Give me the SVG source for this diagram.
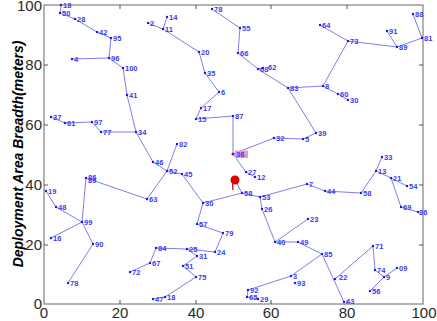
<svg xmlns="http://www.w3.org/2000/svg" width="437" height="321" viewBox="0 0 437 321">
<style>
.e{stroke:#6f6fe6;stroke-width:0.9;fill:none}
.d{fill:#1a1ad8}
.n text{font-family:"Liberation Sans",Arial,sans-serif;font-size:7.5px;font-weight:bold;fill:#3a3af5}
.ax{font-family:"Liberation Sans",Arial,sans-serif;font-size:15px;fill:#2a2a2a}
.tk{stroke:#555;stroke-width:1}
</style>
<rect width="437" height="321" fill="#fff"/>
<g id="axes">
<rect x="44" y="5" width="379" height="299" fill="none" stroke="#666" stroke-width="1"/>
<path class="tk" d="M120,304v-4M196,304v-4M271,304v-4M347,304v-4M120,5v4M196,5v4M271,5v4M347,5v4M44,245h4M44,185h4M44,125h4M44,65h4M423,245h-4M423,185h-4M423,125h-4M423,65h-4"/>
<g class="ax" text-anchor="middle">
<text x="44" y="318">0</text><text x="120" y="318">20</text><text x="196" y="318">40</text><text x="271" y="318">60</text><text x="347" y="318">80</text><text x="424" y="318">100</text>
</g>
<g class="ax" text-anchor="end">
<text x="42" y="309">0</text><text x="42" y="250">20</text><text x="42" y="190">40</text><text x="42" y="130">60</text><text x="42" y="70">80</text><text x="42" y="11">100</text>
</g>
<text transform="translate(23,154) rotate(-90)" text-anchor="middle" font-family="Liberation Sans,Arial,sans-serif" font-size="14" font-weight="bold" font-style="italic" fill="#000">Deployment Area Breadth(meters)</text>
</g>
<g id="connectors" class="e">
<path d="M61,5L60,13L75,19L97,32L111,38L109,58L123,68L127,95L136,132L153,162L167,171L182,174L203,203L197,224L223,233L215,252L187,249L156,248L150,263L130,272"/>
<path d="M72,59L109,58M51,117L65,123L92,122L101,132L136,132M167,171L177,144M167,171L147,199L86,178L82,222L56,207L46,191M82,222L51,238M82,222L93,244L68,283"/>
<path d="M187,249L197,256L183,266L196,277L165,297L153,299"/>
<path d="M203,203L242,193L260,197L262,209L275,242L298,242L322,254L291,276L248,290L247,297L258,299M275,242L308,219M322,254L344,302M260,197L307,184L325,191L361,193L376,171L382,157M376,171L391,178L407,186M391,178L401,207L418,212"/>
<path d="M335,279L373,246L375,270L384,277L397,268M384,277L370,291"/>
<path d="M201,108L196,119L233,116L233,154L274,138L303,139L316,133L288,88L323,86L348,41L320,25M348,41L397,47L387,31M397,47L422,38L413,14M323,86L338,94L348,100"/>
<path d="M233,154L246,172L255,177M235,180L242,193"/>
<path d="M148,23L163,29L167,17M163,29L199,52L205,73L219,92L201,108M212,9L240,28L238,53L258,69L263,68M258,69L288,88"/>
</g>
<g id="sink">
<circle cx="235" cy="180" r="4.5" fill="#e00000"/>
<path d="M232.5,184L233,190" stroke="#e00000" stroke-width="1.3"/>
</g>
<g id="node36" class="n"><rect x="235" y="150.5" width="13" height="7.5" fill="#eb9cc4"/><circle cx="233" cy="154" r="1.5" fill="#a0103c"/><text x="236" y="157">36</text></g>
<g id="n18a" class="n"><circle class="d" cx="61" cy="5" r="1.2"/><text x="63" y="8">18</text></g>
<g id="n50" class="n"><circle class="d" cx="60" cy="13" r="1.2"/><text x="62" y="16">50</text></g>
<g id="n28" class="n"><circle class="d" cx="75" cy="19" r="1.2"/><text x="77" y="22">28</text></g>
<g id="n42" class="n"><circle class="d" cx="97" cy="32" r="1.2"/><text x="99" y="35">42</text></g>
<g id="n95" class="n"><circle class="d" cx="111" cy="38" r="1.2"/><text x="113" y="41">95</text></g>
<g id="n4" class="n"><circle class="d" cx="72" cy="59" r="1.2"/><text x="74" y="62">4</text></g>
<g id="n96" class="n"><circle class="d" cx="109" cy="58" r="1.2"/><text x="111" y="61">96</text></g>
<g id="n100" class="n"><circle class="d" cx="123" cy="68" r="1.2"/><text x="125" y="71">100</text></g>
<g id="n41" class="n"><circle class="d" cx="127" cy="95" r="1.2"/><text x="129" y="98">41</text></g>
<g id="n34" class="n"><circle class="d" cx="136" cy="132" r="1.2"/><text x="138" y="135">34</text></g>
<g id="n37" class="n"><circle class="d" cx="51" cy="117" r="1.2"/><text x="53" y="120">37</text></g>
<g id="n61" class="n"><circle class="d" cx="65" cy="123" r="1.2"/><text x="67" y="126">61</text></g>
<g id="n97" class="n"><circle class="d" cx="92" cy="122" r="1.2"/><text x="94" y="125">97</text></g>
<g id="n77" class="n"><circle class="d" cx="101" cy="132" r="1.2"/><text x="103" y="135">77</text></g>
<g id="n46" class="n"><circle class="d" cx="153" cy="162" r="1.2"/><text x="155" y="165">46</text></g>
<g id="n82" class="n"><circle class="d" cx="177" cy="144" r="1.2"/><text x="179" y="147">82</text></g>
<g id="n52" class="n"><circle class="d" cx="167" cy="171" r="1.2"/><text x="169" y="174">52</text></g>
<g id="n45" class="n"><circle class="d" cx="182" cy="174" r="1.2"/><text x="184" y="177">45</text></g>
<g id="n86a" class="n"><circle class="d" cx="86" cy="178" r="1.2"/><text x="88" y="180">86</text></g>
<g id="n89a" class="n"><text x="88" y="183">89</text></g>
<g id="n63" class="n"><circle class="d" cx="147" cy="199" r="1.2"/><text x="149" y="202">63</text></g>
<g id="n19" class="n"><circle class="d" cx="46" cy="191" r="1.2"/><text x="48" y="194">19</text></g>
<g id="n48" class="n"><circle class="d" cx="56" cy="207" r="1.2"/><text x="58" y="210">48</text></g>
<g id="n99" class="n"><circle class="d" cx="82" cy="222" r="1.2"/><text x="84" y="225">99</text></g>
<g id="n16" class="n"><circle class="d" cx="51" cy="238" r="1.2"/><text x="53" y="241">16</text></g>
<g id="n90" class="n"><circle class="d" cx="93" cy="244" r="1.2"/><text x="95" y="247">90</text></g>
<g id="n78b" class="n"><circle class="d" cx="68" cy="283" r="1.2"/><text x="70" y="286">78</text></g>
<g id="n84" class="n"><circle class="d" cx="156" cy="248" r="1.2"/><text x="158" y="251">84</text></g>
<g id="n67" class="n"><circle class="d" cx="150" cy="263" r="1.2"/><text x="152" y="266">67</text></g>
<g id="n72" class="n"><circle class="d" cx="130" cy="272" r="1.2"/><text x="132" y="275">72</text></g>
<g id="n47" class="n"><circle class="d" cx="153" cy="299" r="1.2"/><text x="155" y="302">47</text></g>
<g id="n18b" class="n"><circle class="d" cx="165" cy="297" r="1.2"/><text x="167" y="300">18</text></g>
<g id="n30a" class="n"><circle class="d" cx="203" cy="203" r="1.2"/><text x="205" y="206">30</text></g>
<g id="n57" class="n"><circle class="d" cx="197" cy="224" r="1.2"/><text x="199" y="227">57</text></g>
<g id="n79" class="n"><circle class="d" cx="223" cy="233" r="1.2"/><text x="225" y="236">79</text></g>
<g id="n25" class="n"><circle class="d" cx="187" cy="249" r="1.2"/><text x="189" y="252">25</text></g>
<g id="n24" class="n"><circle class="d" cx="215" cy="252" r="1.2"/><text x="217" y="255">24</text></g>
<g id="n31" class="n"><circle class="d" cx="197" cy="256" r="1.2"/><text x="199" y="259">31</text></g>
<g id="n51" class="n"><circle class="d" cx="183" cy="266" r="1.2"/><text x="185" y="269">51</text></g>
<g id="n75" class="n"><circle class="d" cx="196" cy="277" r="1.2"/><text x="198" y="280">75</text></g>
<g id="n26" class="n"><circle class="d" cx="262" cy="209" r="1.2"/><text x="264" y="212">26</text></g>
<g id="n40" class="n"><circle class="d" cx="275" cy="242" r="1.2"/><text x="277" y="245">40</text></g>
<g id="n92" class="n"><circle class="d" cx="248" cy="290" r="1.2"/><text x="250" y="293">92</text></g>
<g id="n65" class="n"><circle class="d" cx="247" cy="297" r="1.2"/><text x="249" y="300">65</text></g>
<g id="n29" class="n"><circle class="d" cx="258" cy="299" r="1.2"/><text x="260" y="302">29</text></g>
<g id="n3" class="n"><circle class="d" cx="291" cy="276" r="1.2"/><text x="293" y="279">3</text></g>
<g id="n93" class="n"><circle class="d" cx="295" cy="283" r="1.2"/><text x="297" y="286">93</text></g>
<g id="n17" class="n"><circle class="d" cx="201" cy="108" r="1.2"/><text x="203" y="111">17</text></g>
<g id="n15" class="n"><circle class="d" cx="196" cy="119" r="1.2"/><text x="198" y="122">15</text></g>
<g id="n87" class="n"><circle class="d" cx="233" cy="116" r="1.2"/><text x="235" y="119">87</text></g>
<g id="n32" class="n"><circle class="d" cx="274" cy="138" r="1.2"/><text x="276" y="141">32</text></g>
<g id="n27" class="n"><circle class="d" cx="246" cy="172" r="1.2"/><text x="248" y="175">27</text></g>
<g id="n12" class="n"><circle class="d" cx="255" cy="177" r="1.2"/><text x="257" y="180">12</text></g>
<g id="n58a" class="n"><circle class="d" cx="242" cy="193" r="1.2"/><text x="244" y="196">58</text></g>
<g id="n53" class="n"><circle class="d" cx="260" cy="197" r="1.2"/><text x="262" y="200">53</text></g>
<g id="n14" class="n"><circle class="d" cx="167" cy="17" r="1.2"/><text x="169" y="20">14</text></g>
<g id="n11" class="n"><circle class="d" cx="163" cy="29" r="1.2"/><text x="165" y="32">11</text></g>
<g id="n2" class="n"><circle class="d" cx="148" cy="23" r="1.2"/><text x="150" y="26">2</text></g>
<g id="n20" class="n"><circle class="d" cx="199" cy="52" r="1.2"/><text x="201" y="55">20</text></g>
<g id="n35" class="n"><circle class="d" cx="205" cy="73" r="1.2"/><text x="207" y="76">35</text></g>
<g id="n6" class="n"><circle class="d" cx="219" cy="92" r="1.2"/><text x="221" y="95">6</text></g>
<g id="n78a" class="n"><circle class="d" cx="212" cy="9" r="1.2"/><text x="214" y="12">78</text></g>
<g id="n55" class="n"><circle class="d" cx="240" cy="28" r="1.2"/><text x="242" y="31">55</text></g>
<g id="n66" class="n"><circle class="d" cx="238" cy="53" r="1.2"/><text x="240" y="56">66</text></g>
<g id="n68" class="n"><circle class="d" cx="258" cy="69" r="1.2"/><text x="260" y="72">68</text></g>
<g id="n62" class="n"><circle class="d" cx="263" cy="68" r="1.2"/><text x="268" y="70">62</text></g>
<g id="n83" class="n"><circle class="d" cx="288" cy="88" r="1.2"/><text x="290" y="91">83</text></g>
<g id="n64" class="n"><circle class="d" cx="320" cy="25" r="1.2"/><text x="322" y="28">64</text></g>
<g id="n73" class="n"><circle class="d" cx="348" cy="41" r="1.2"/><text x="350" y="44">73</text></g>
<g id="n91" class="n"><circle class="d" cx="387" cy="31" r="1.2"/><text x="389" y="34">91</text></g>
<g id="n89" class="n"><circle class="d" cx="397" cy="47" r="1.2"/><text x="399" y="50">89</text></g>
<g id="n88" class="n"><circle class="d" cx="413" cy="14" r="1.2"/><text x="415" y="17">88</text></g>
<g id="n81" class="n"><circle class="d" cx="422" cy="38" r="1.2"/><text x="424" y="41">81</text></g>
<g id="n8" class="n"><circle class="d" cx="323" cy="86" r="1.2"/><text x="325" y="89">8</text></g>
<g id="n60" class="n"><circle class="d" cx="338" cy="94" r="1.2"/><text x="340" y="97">60</text></g>
<g id="n30b" class="n"><circle class="d" cx="348" cy="100" r="1.2"/><text x="350" y="103">30</text></g>
<g id="n39" class="n"><circle class="d" cx="316" cy="133" r="1.2"/><text x="318" y="136">39</text></g>
<g id="n5" class="n"><circle class="d" cx="303" cy="139" r="1.2"/><text x="305" y="142">5</text></g>
<g id="n33" class="n"><circle class="d" cx="382" cy="157" r="1.2"/><text x="384" y="160">33</text></g>
<g id="n13" class="n"><circle class="d" cx="376" cy="171" r="1.2"/><text x="378" y="174">13</text></g>
<g id="n21" class="n"><circle class="d" cx="391" cy="178" r="1.2"/><text x="393" y="181">21</text></g>
<g id="n54" class="n"><circle class="d" cx="407" cy="186" r="1.2"/><text x="409" y="189">54</text></g>
<g id="n7" class="n"><circle class="d" cx="307" cy="184" r="1.2"/><text x="309" y="187">7</text></g>
<g id="n44" class="n"><circle class="d" cx="325" cy="191" r="1.2"/><text x="327" y="194">44</text></g>
<g id="n58b" class="n"><circle class="d" cx="361" cy="193" r="1.2"/><text x="363" y="196">58</text></g>
<g id="n69" class="n"><circle class="d" cx="401" cy="207" r="1.2"/><text x="403" y="210">69</text></g>
<g id="n86b" class="n"><circle class="d" cx="418" cy="212" r="1.2"/><text x="419" y="215">86</text></g>
<g id="n23" class="n"><circle class="d" cx="308" cy="219" r="1.2"/><text x="310" y="222">23</text></g>
<g id="n49" class="n"><circle class="d" cx="298" cy="242" r="1.2"/><text x="300" y="245">49</text></g>
<g id="n85" class="n"><circle class="d" cx="322" cy="254" r="1.2"/><text x="324" y="257">85</text></g>
<g id="n71" class="n"><circle class="d" cx="373" cy="246" r="1.2"/><text x="375" y="249">71</text></g>
<g id="n74" class="n"><circle class="d" cx="375" cy="270" r="1.2"/><text x="377" y="273">74</text></g>
<g id="n9" class="n"><circle class="d" cx="384" cy="277" r="1.2"/><text x="386" y="280">9</text></g>
<g id="n09" class="n"><circle class="d" cx="397" cy="268" r="1.2"/><text x="399" y="271">09</text></g>
<g id="n56" class="n"><circle class="d" cx="370" cy="291" r="1.2"/><text x="372" y="294">56</text></g>
<g id="n22" class="n"><circle class="d" cx="335" cy="279" r="1.2"/><text x="339" y="280">22</text></g>
<g id="n43" class="n"><circle class="d" cx="344" cy="302" r="1.2"/><text x="346" y="304">43</text></g>
</svg>
